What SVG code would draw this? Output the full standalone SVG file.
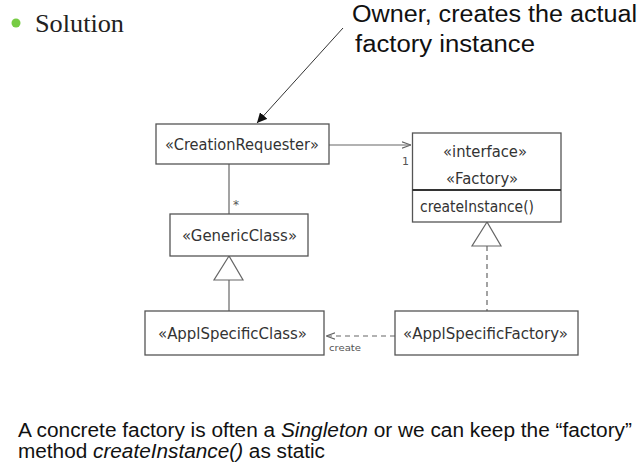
<svg xmlns="http://www.w3.org/2000/svg" width="643" height="474" viewBox="0 0 643 474">
<style>
  .box { fill: #ffffff; stroke: #555555; stroke-width: 1.3; }
  .uml { font-family: "DejaVu Sans", "Lato", sans-serif; font-size: 16.5px; fill: #333333; }
  .small { font-family: "DejaVu Sans", sans-serif; fill: #555555; }
  .conn { fill: none; stroke: #666666; stroke-width: 1.2; }
  .dash { stroke-dasharray: 5 4; }
  .note { font-family: "Liberation Sans", Arial, sans-serif; fill: #111111; }
</style>
<defs>
  <marker id="filled" viewBox="0 0 10 10" refX="10" refY="5" markerWidth="10" markerHeight="10" markerUnits="userSpaceOnUse" orient="auto">
    <path d="M0,0 L10,5 L0,10 Z" fill="#111111"/>
  </marker>
  <marker id="open" viewBox="0 0 10 10" refX="10" refY="5" markerWidth="9" markerHeight="9" markerUnits="userSpaceOnUse" orient="auto">
    <path d="M0,1.5 L10,5 L0,8.5" fill="none" stroke="#666666" stroke-width="1.3"/>
  </marker>
</defs>
<rect width="643" height="474" fill="#ffffff"/>

<g id="header">
  <circle cx="16" cy="23" r="4.5" fill="#77cc44"/>
  <text x="35" y="32" font-family="Liberation Serif, serif" font-size="26" fill="#222222" textLength="89" lengthAdjust="spacingAndGlyphs">Solution</text>
</g>

<g id="annotation">
  <text class="note" x="352" y="22" font-size="23" textLength="285" lengthAdjust="spacingAndGlyphs">Owner, creates the actual</text>
  <text class="note" x="355" y="52" font-size="23" textLength="180" lengthAdjust="spacingAndGlyphs">factory instance</text>
</g>

<g id="connectors">
  <line x1="343" y1="28" x2="257" y2="123" stroke="#333333" stroke-width="1" marker-end="url(#filled)"/>
  <line class="conn" x1="329" y1="145" x2="411" y2="145" marker-end="url(#open)"/>
  <text class="small" x="402" y="165" font-size="11">1</text>
  <line class="conn" x1="229" y1="164" x2="229" y2="214"/>
  <text class="small" x="233" y="209" font-size="12">*</text>
  <polygon class="conn" points="229,256 214,280 243,280" fill="#ffffff"/>
  <line class="conn" x1="229" y1="280" x2="229" y2="311"/>
  <polygon class="conn" points="487,222 472,246 501,246" fill="#ffffff"/>
  <line class="conn dash" x1="487" y1="246" x2="487" y2="311"/>
  <line class="conn dash" x1="395" y1="336" x2="326" y2="336" marker-end="url(#open)"/>
  <text class="small" x="329" y="351" font-size="9.5" textLength="32" lengthAdjust="spacingAndGlyphs">create</text>
</g>

<g id="CreationRequester">
  <rect class="box" x="156" y="124" width="173" height="40"/>
  <text class="uml" x="165" y="150" textLength="154" lengthAdjust="spacingAndGlyphs">«CreationRequester»</text>
</g>

<g id="GenericClass">
  <rect class="box" x="170" y="214" width="138" height="42"/>
  <text class="uml" x="182" y="241" textLength="115" lengthAdjust="spacingAndGlyphs">«GenericClass»</text>
</g>

<g id="ApplSpecificClass">
  <rect class="box" x="145" y="311" width="179" height="44"/>
  <text class="uml" x="158" y="339" textLength="149" lengthAdjust="spacingAndGlyphs">«ApplSpecificClass»</text>
</g>

<g id="ApplSpecificFactory">
  <rect class="box" x="395" y="311" width="183" height="44"/>
  <text class="uml" x="403" y="339" textLength="165" lengthAdjust="spacingAndGlyphs">«ApplSpecificFactory»</text>
</g>

<g id="Factory">
  <rect class="box" x="412.5" y="133" width="148.5" height="89"/>
  <line x1="412.5" y1="190" x2="561" y2="190" stroke="#333333" stroke-width="2"/>
  <text class="uml" x="443" y="157" textLength="84" lengthAdjust="spacingAndGlyphs">«interface»</text>
  <text class="uml" x="446" y="184" textLength="72" lengthAdjust="spacingAndGlyphs">«Factory»</text>
  <text class="uml" x="420" y="212" textLength="114" lengthAdjust="spacingAndGlyphs">createInstance()</text>
</g>

<g id="footer" class="note" font-size="19.5">
  <text x="18" y="437" textLength="614" lengthAdjust="spacingAndGlyphs">A concrete factory is often a <tspan font-style="italic">Singleton</tspan> or we can keep the “factory”</text>
  <text x="18" y="458" textLength="307" lengthAdjust="spacingAndGlyphs">method <tspan font-style="italic">createInstance()</tspan> as static</text>
</g>
</svg>
